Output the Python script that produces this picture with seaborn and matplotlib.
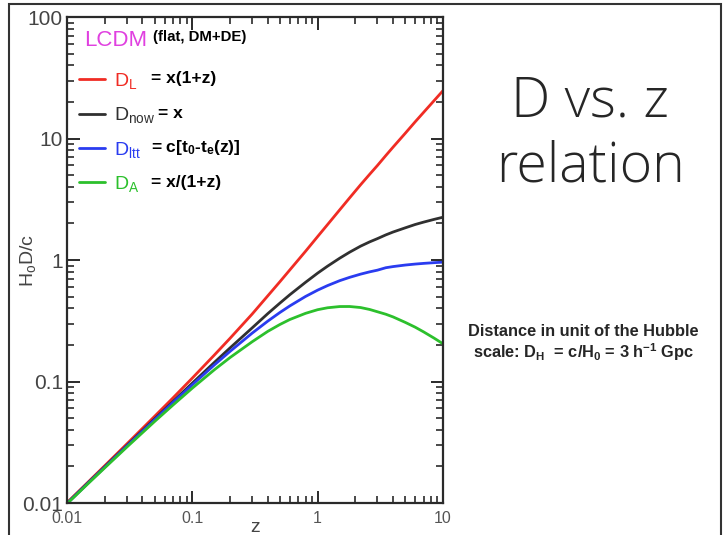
import numpy as np
import pandas as pd
import matplotlib
matplotlib.use("Agg")
import matplotlib.pyplot as plt
import matplotlib.patches as mpatches
from matplotlib.lines import Line2D
from matplotlib.ticker import LogLocator, FixedLocator, FixedFormatter, NullFormatter
import seaborn as sns

# values (units of c/H0)
z = [0.01, 0.015, 0.02, 0.03, 0.05, 0.07, 0.1, 0.15, 0.2, 0.3, 0.4, 0.5, 0.6, 0.8,
     1.0, 1.2, 1.5, 1.8, 2.2, 2.6, 3.0, 3.5, 4.0, 5.0, 6.0, 7.0, 8.5, 10.0]
d_lum = [0.01006, 0.01514, 0.02026, 0.0306, 0.0517, 0.0732, 0.1067, 0.1653, 0.2268, 0.3588,
         0.507, 0.663, 0.829, 1.179, 1.56, 1.958, 2.588, 3.248, 4.16, 5.076, 6.00, 7.245,
         8.5, 11.04, 13.72, 16.40, 20.52, 24.75]
d_now = [0.00996, 0.01492, 0.01986, 0.0297, 0.0492, 0.0684, 0.0970, 0.1437, 0.1890, 0.2760,
         0.362, 0.442, 0.518, 0.655, 0.78, 0.89, 1.035, 1.16, 1.30, 1.41, 1.50, 1.61,
         1.70, 1.84, 1.96, 2.05, 2.16, 2.25]
d_ltt = [0.0099, 0.01485, 0.0197, 0.0294, 0.0484, 0.0670, 0.0940, 0.1370, 0.1770, 0.2500,
         0.3140, 0.3700, 0.4190, 0.5010, 0.5650, 0.6160, 0.6760, 0.7200, 0.7650, 0.7990,
         0.8250, 0.8640, 0.8830, 0.9090, 0.9260, 0.9380, 0.9510, 0.9600]
d_ang = [0.00986, 0.0147, 0.01947, 0.02883, 0.04686, 0.06393, 0.0882, 0.1250, 0.1575, 0.2123,
         0.2586, 0.2947, 0.3238, 0.3639, 0.390, 0.4045, 0.414, 0.4143, 0.4063, 0.3917,
         0.375, 0.3578, 0.340, 0.3067, 0.280, 0.2563, 0.2274, 0.2045]

names = ["D_L", "D_now", "D_ltt", "D_A"]
colors = ["#f02c24", "#303030", "#2a3cf0", "#2cc02c"]
labels = [r"D$_\mathregular{L}$", r"D$_\mathregular{now}$", r"D$_\mathregular{ltt}$", r"D$_\mathregular{A}$"]
eqs = ["= x(1+z)", "= x", r"= c[t$_\mathbf{0}$-t$_\mathbf{e}$(z)]", "= x/(1+z)"]

df = pd.DataFrame({"z": z, "D_L": d_lum, "D_now": d_now, "D_ltt": d_ltt, "D_A": d_ang})
long = df.melt(id_vars="z", var_name="kind", value_name="D")

sns.set_theme(style="white")
plt.rcParams["font.family"] = ["Liberation Sans", "DejaVu Sans"]
plt.rcParams["mathtext.fontset"] = "custom"
plt.rcParams["mathtext.rm"] = "Liberation Sans"
plt.rcParams["mathtext.bf"] = "Liberation Sans:bold"
plt.rcParams["mathtext.it"] = "Liberation Sans:italic"

fig = plt.figure(figsize=(7.25, 5.35), dpi=100)
ax = fig.add_axes([0.0924, 0.0598, 0.5186, 0.9084])

sns.lineplot(data=long, x="z", y="D", hue="kind", hue_order=names,
             palette=colors, linewidth=2, legend=False, ax=ax)
ax.set_xscale("log")
ax.set_yscale("log")
ax.set_xlim(0.01, 10)
ax.set_ylim(0.01, 100)

ax.xaxis.set_major_locator(FixedLocator([0.01, 0.1, 1, 10]))
ax.xaxis.set_major_formatter(FixedFormatter(["0.01", "0.1", "1", "10"]))
ax.yaxis.set_major_locator(FixedLocator([0.01, 0.1, 1, 10, 100]))
ax.yaxis.set_major_formatter(FixedFormatter(["0.01", "0.1", "1", "10", "100"]))
for a in (ax.xaxis, ax.yaxis):
    a.set_minor_locator(LogLocator(base=10, subs=np.arange(2, 10), numticks=20))
    a.set_minor_formatter(NullFormatter())
ax.tick_params(which="both", direction="in", top=True, right=True, left=True,
               bottom=True, color="#2a2a2a")
ax.tick_params(which="major", length=9, width=1.4)
ax.tick_params(which="minor", length=5, width=1.2)
ax.tick_params(axis="x", labelsize=11.5, labelcolor="#555555", pad=6)
ax.tick_params(axis="y", labelsize=15, labelcolor="#444444", pad=3)
for s in ax.spines.values():
    s.set_color("#2a2a2a")
    s.set_linewidth(1.6)

ax.set_xlabel("z", fontsize=14, color="#444444", labelpad=-5)
ax.set_ylabel(r"H$_\mathregular{o}$D/c", fontsize=14, color="#444444")
ax.yaxis.set_label_coords(-0.078, 0.5)

# legend: line samples with coloured D labels
handles = [Line2D([], [], color=c, lw=2) for c in colors]
leg = ax.legend(handles, labels, loc="upper left", bbox_to_anchor=(0.012, 0.905),
                frameon=False, fontsize=14, handlelength=1.3, handletextpad=0.5,
                labelspacing=0.74, borderaxespad=0)
for t, c in zip(leg.get_texts(), colors):
    t.set_color(c)

ax.text(0.045, 0.952, "LCDM", transform=ax.transAxes, color="#e040e0",
        fontsize=16, va="center")
ax.text(0.228, 0.958, "(flat, DM+DE)", transform=ax.transAxes, color="black",
        fontsize=10.8, fontweight="bold", va="center")

fig.canvas.draw()
inv = fig.transFigure.inverted()
for t, e in zip(leg.get_texts(), eqs):
    bb = t.get_window_extent()
    x0, y0 = inv.transform((bb.x1, (bb.y0 + bb.y1) / 2 + 2))
    fig.text(max(x0 + 0.004, 151 / 725), y0, e, fontsize=12.5, fontweight="bold",
             color="black", va="center")

# right side slide text
fig.text(0.814, 0.81, "D vs. z", fontsize=40, ha="center", va="center",
         family=["Open Sans", "DejaVu Sans"], fontweight="light")
fig.text(0.814, 0.688, "relation", fontsize=40, ha="center", va="center",
         family=["Open Sans", "DejaVu Sans"], fontweight="light")
fig.text(0.805, 0.381, "Distance in unit of the Hubble", fontsize=11.8,
         fontweight="bold", ha="center", va="center")
fig.text(0.805, 0.342, r"scale: D$_\mathbf{H}$  = c/H$_\mathbf{0}$ = 3 h$^\mathbf{-1}$ Gpc",
         fontsize=11.8, fontweight="bold", ha="center", va="center")

# slide frame
frame = mpatches.Rectangle((9 / 725, -0.05), 712 / 725, 1.0434, transform=fig.transFigure,
                           fill=False, edgecolor="#333333", linewidth=1.5)
fig.patches.append(frame)

fig.savefig("out.png", dpi=100)
